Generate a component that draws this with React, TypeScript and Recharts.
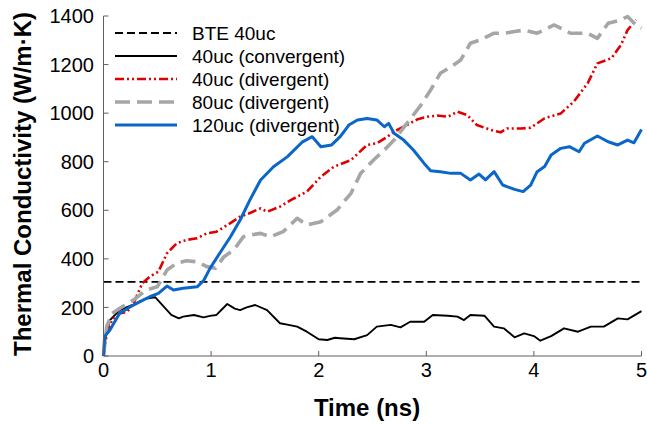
import React from 'react';
import { LineChart, Line, XAxis, YAxis, ReferenceLine, Legend } from 'recharts';

const FONT = '"Liberation Sans", Arial, Helvetica, sans-serif';

const xTicks = [0, 1, 2, 3, 4, 5];
const yTicks = [0, 200, 400, 600, 800, 1000, 1200, 1400];
const bte40uc = 305;

const conv40: [number, number][] = [
  [0, 0], [0.02, 80], [0.06, 148], [0.15, 189], [0.27, 210], [0.4, 237], [0.48, 242],
  [0.56, 203], [0.63, 169], [0.7, 155], [0.74, 162], [0.84, 169], [0.93, 159], [0.99, 165],
  [1.05, 169], [1.15, 214], [1.22, 195], [1.27, 189], [1.33, 200], [1.41, 210], [1.52, 189],
  [1.64, 135], [1.72, 128], [1.8, 121], [1.89, 100], [2.0, 69], [2.08, 66], [2.15, 75],
  [2.2, 73], [2.33, 69], [2.45, 86], [2.54, 121], [2.67, 128], [2.76, 118], [2.85, 141],
  [2.98, 141], [3.06, 169], [3.2, 166], [3.29, 162], [3.35, 148], [3.41, 169], [3.54, 166],
  [3.63, 121], [3.72, 114], [3.82, 77], [3.91, 93], [4.0, 82], [4.06, 63], [4.16, 82],
  [4.28, 114], [4.41, 100], [4.53, 121], [4.65, 121], [4.78, 155], [4.87, 151], [5.0, 185],
];

const div40: [number, number][] = [
  [0, 0], [0.03, 90], [0.08, 150], [0.15, 175], [0.22, 182], [0.28, 217], [0.36, 299],
  [0.43, 327], [0.51, 347], [0.59, 423], [0.68, 464], [0.77, 478], [0.87, 485], [0.96, 505],
  [1.05, 512], [1.15, 539], [1.27, 574], [1.35, 587], [1.46, 608], [1.52, 594], [1.64, 615],
  [1.74, 642], [1.89, 677], [2.02, 738], [2.14, 779], [2.3, 807], [2.45, 869], [2.54, 876],
  [2.64, 903], [2.7, 924], [2.82, 951], [2.92, 975], [3.01, 985], [3.1, 990], [3.2, 985],
  [3.29, 1006], [3.38, 992], [3.47, 951], [3.6, 931], [3.69, 921], [3.75, 937], [3.88, 937],
  [3.97, 940], [4.1, 979], [4.25, 999], [4.37, 1047], [4.5, 1123], [4.59, 1205], [4.72, 1226],
  [4.81, 1281], [4.87, 1342], [4.95, 1384],
];

const div80: [number, number][] = [
  [0, 0], [0.03, 121], [0.08, 175], [0.15, 196], [0.28, 231], [0.4, 272], [0.5, 285],
  [0.59, 354], [0.68, 382], [0.77, 392], [0.87, 388], [0.96, 368], [1.04, 361], [1.12, 409],
  [1.21, 436], [1.3, 491], [1.36, 498], [1.46, 505], [1.55, 491], [1.67, 512], [1.8, 567],
  [1.89, 539], [2.02, 553], [2.17, 601], [2.3, 670], [2.39, 752], [2.51, 807], [2.61, 848],
  [2.7, 889], [2.82, 958], [2.95, 1033], [3.04, 1095], [3.13, 1164], [3.23, 1191], [3.32, 1219],
  [3.41, 1288], [3.5, 1301], [3.63, 1329], [3.72, 1329], [3.82, 1336], [3.91, 1342], [4.03, 1329],
  [4.19, 1363], [4.34, 1329], [4.5, 1329], [4.59, 1308], [4.69, 1370], [4.81, 1384], [4.87, 1398],
  [4.95, 1363], [5.0, 1350],
];

const div120: [number, number][] = [
  [0, 0], [0.01, 80], [0.06, 107], [0.15, 176], [0.25, 203], [0.34, 224], [0.43, 244],
  [0.51, 258], [0.59, 288], [0.65, 272], [0.74, 279], [0.87, 285], [0.93, 310], [0.99, 361],
  [1.08, 423], [1.18, 491], [1.27, 560], [1.36, 642], [1.46, 725], [1.58, 779], [1.71, 821],
  [1.85, 882], [1.94, 903], [2.02, 862], [2.12, 869], [2.2, 903], [2.28, 951], [2.36, 972],
  [2.45, 978], [2.54, 972], [2.61, 944], [2.65, 958], [2.7, 917], [2.79, 889], [2.88, 848],
  [2.98, 793], [3.04, 763], [3.13, 759], [3.23, 752], [3.32, 752], [3.41, 725], [3.49, 749],
  [3.55, 725], [3.63, 759], [3.71, 704], [3.82, 686], [3.9, 677], [3.97, 704], [4.03, 759],
  [4.1, 780], [4.16, 828], [4.25, 855], [4.33, 862], [4.42, 841], [4.47, 876], [4.59, 906],
  [4.69, 882], [4.78, 869], [4.87, 889], [4.93, 878], [5.0, 933],
];

const toRows = (arr: [number, number][]) => arr.map(([t, k]) => ({ t, k }));

const legendItems = [
  { name: 'BTE 40uc', color: '#000000', width: 1.8, dash: '8 4' },
  { name: '40uc (convergent)', color: '#000000', width: 1.9, dash: undefined },
  { name: '40uc (divergent)', color: '#e00000', width: 2.6, dash: '9 3 2 3 2 3' },
  { name: '80uc (divergent)', color: '#a6a6a6', width: 3.6, dash: '15 7' },
  { name: '120uc (divergent)', color: '#0a66c8', width: 3, dash: undefined },
];

const renderLegend = () => (
  <svg width={260} height={120} style={{ display: 'block', overflow: 'visible' }}>
    {legendItems.map((it, i) => {
      const y = 13 + i * 23;
      return (
        <g key={it.name}>
          <line x1={7} x2={69} y1={y} y2={y} stroke={it.color} strokeWidth={it.width} strokeDasharray={it.dash} />
          <text x={84} y={y + 7} fontSize={19} fontFamily={FONT} fill="#000">{it.name}</text>
        </g>
      );
    })}
  </svg>
);

const axisColor = '#606060';

export default function App() {
  return (
    <div style={{ position: 'absolute', left: 0, top: 0, background: '#fff' }}>
      <LineChart width={647} height={424} margin={{ top: 16, right: 5.5, bottom: 38, left: 0 }}>
        <XAxis
          xAxisId={0}
          type="number"
          dataKey="t"
          domain={[0, 5]}
          ticks={xTicks}
          height={30}
          tickSize={-5}
          tickMargin={12}
          stroke={axisColor}
          tick={{ fontSize: 20, fill: '#000', fontFamily: FONT }}
          label={{
            content: () => (
              <text x={367} y={416} textAnchor="middle" fontSize={24} fontWeight="bold" fontFamily={FONT} fill="#000">
                Time (ns)
              </text>
            ),
          }}
        />
        <XAxis
          xAxisId="top"
          orientation="top"
          type="number"
          dataKey="t"
          domain={[0, 5]}
          ticks={xTicks}
          height={0}
          tickSize={-5}
          tick={false}
          stroke={axisColor}
        />
        <YAxis
          yAxisId={0}
          type="number"
          domain={[0, 1400]}
          ticks={yTicks}
          width={103.5}
          tickSize={-5}
          tickMargin={14.5}
          stroke={axisColor}
          tick={{ fontSize: 20, fill: '#000', fontFamily: FONT }}
          label={{
            content: () => (
              <text
                x={31}
                y={184}
                transform="rotate(-90 31 184)"
                textAnchor="middle"
                fontSize={24}
                fontWeight="bold"
                fontFamily={FONT}
                fill="#000"
              >
                Thermal Conductivity (W/m·K)
              </text>
            ),
          }}
        />
        <YAxis
          yAxisId="right"
          orientation="right"
          type="number"
          domain={[0, 1400]}
          ticks={yTicks}
          width={0}
          tickSize={-5}
          tick={false}
          stroke={axisColor}
        />
        <ReferenceLine y={bte40uc} stroke="#000" strokeWidth={1.8} strokeDasharray="8 4" />
        <Line data={toRows(conv40)} dataKey="k" name="40uc (convergent)" stroke="#000" strokeWidth={1.9} dot={false} isAnimationActive={false} strokeLinejoin="round" />
        <Line data={toRows(div40)} dataKey="k" name="40uc (divergent)" stroke="#e00000" strokeWidth={2.6} strokeDasharray="9 3 2 3 2 3" dot={false} isAnimationActive={false} strokeLinejoin="round" />
        <Line data={toRows(div80)} dataKey="k" name="80uc (divergent)" stroke="#a6a6a6" strokeWidth={3.6} strokeDasharray="15 7" dot={false} isAnimationActive={false} strokeLinejoin="round" />
        <Line data={toRows(div120)} dataKey="k" name="120uc (divergent)" stroke="#0a66c8" strokeWidth={3} dot={false} isAnimationActive={false} strokeLinejoin="round" />
        <Legend
          layout="vertical"
          align="center"
          verticalAlign="middle"
          content={renderLegend}
          wrapperStyle={{ left: 108, top: 20, width: 260, height: 120 }}
        />
      </LineChart>
    </div>
  );
}
